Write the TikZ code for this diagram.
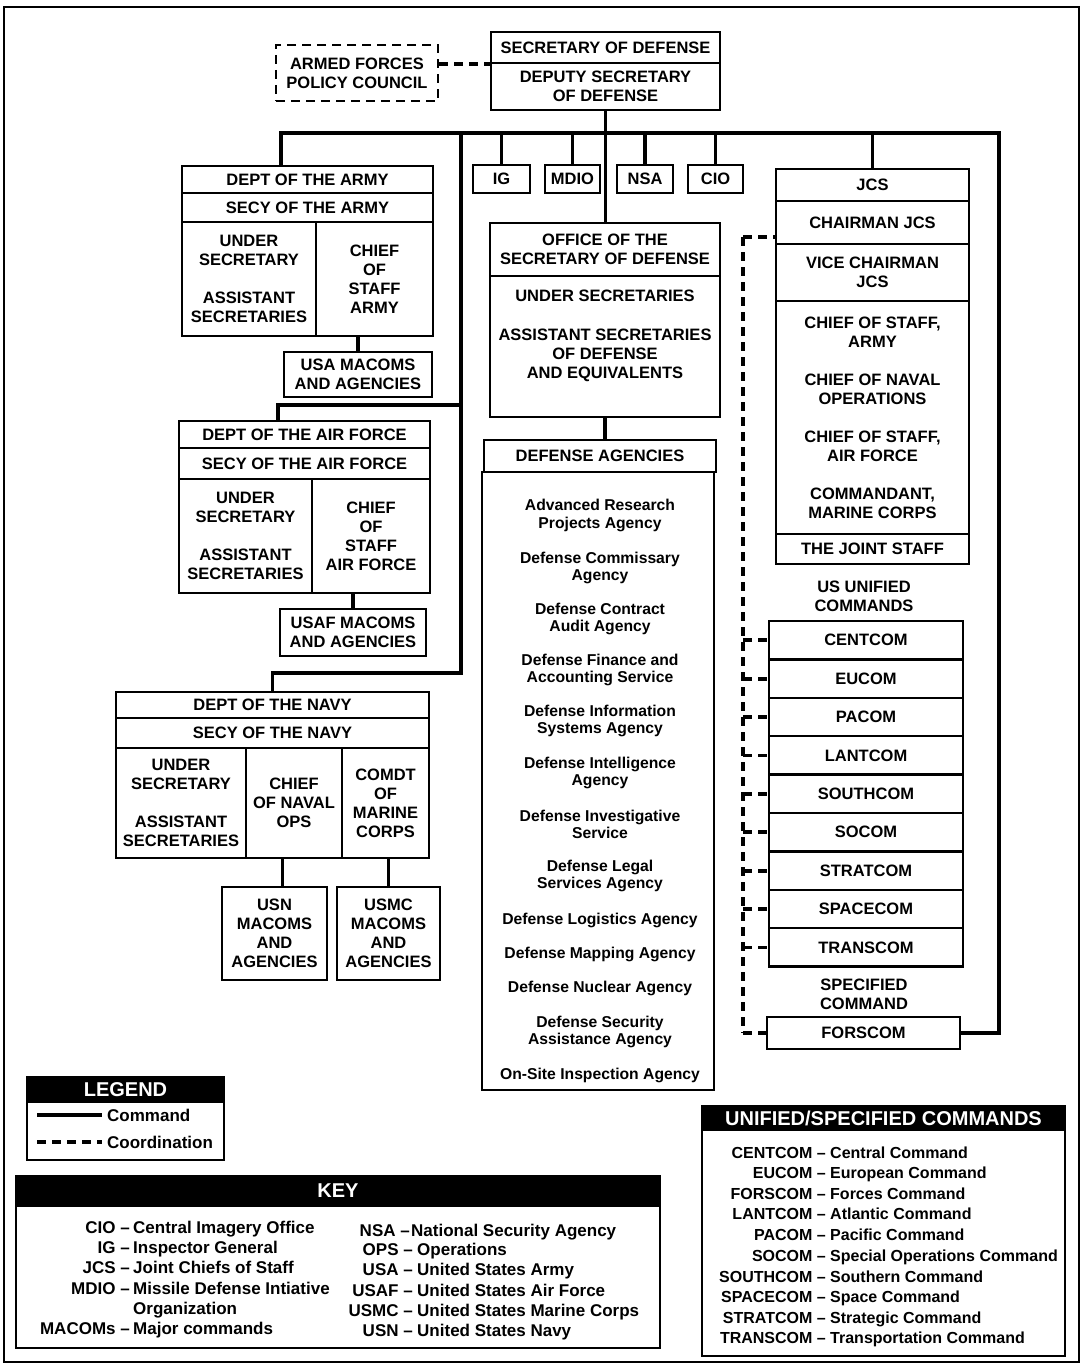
\documentclass[tikz,border=0pt]{standalone}
\usepackage{fontspec}
\setmainfont{Liberation Sans}
\begin{document}
\begin{tikzpicture}[x=1pt,y=-1pt,
  cr/.style n args={4}{at={({((#1)+(#3))/2},{((#2)+(#4))/2})}, minimum width={(#3)-(#1)}, minimum height={(#4)-(#2)}},
  bx/.style={draw, line width=2.4pt, inner sep=0pt, align=center, font=\fontsize{16.5}{19}\selectfont\bfseries},
  cbx/.style={bx, dash pattern=on 9pt off 6pt, line width=2.8pt},
  hd/.style={draw, fill=black, line width=2.4pt, inner sep=0pt, text=white, font=\fontsize{20}{22}\selectfont\bfseries},
  lbl/.style={inner sep=0pt, align=center, font=\fontsize{16.5}{19}\selectfont\bfseries},
  ag/.style={inner sep=0pt, align=center, font=\fontsize{15.7}{17.5}\selectfont\bfseries},
  kt/.style={inner sep=0pt, font=\fontsize{17}{20}\selectfont\bfseries},
  ut/.style={inner sep=0pt, font=\fontsize{16}{20}\selectfont\bfseries},
  cmd/.style={line width=3.6pt},
  crd/.style={line width=3.8pt, dash pattern=on 9pt off 6pt},
]
\fill[white] (0,0) rectangle (1084,1367);
\useasboundingbox (0,0) rectangle (1084,1367);
\draw[line width=2.4pt] (4,7) rectangle (1079,1362);

% ---- top
\node[cbx, cr={276}{45}{438}{101}] (afpc) {ARMED FORCES\\POLICY COUNCIL};
\node[bx, cr={491}{32}{720}{63}] (sd1) {SECRETARY OF DEFENSE};
\node[bx, cr={491}{63}{720}{110}] (sd2) {DEPUTY SECRETARY\\OF DEFENSE};
\draw[crd] ([yshift=9pt]afpc.east) -- ([yshift=9pt]afpc.east -| sd2.west);

% ---- small offices
\node[bx, cr={473}{165}{530}{193}] (ig) {IG};
\node[bx, cr={545}{165}{600}{193}] (mdio) {MDIO};
\node[bx, cr={617}{165}{673}{193}] (nsa) {NSA};
\node[bx, cr={688}{165}{743}{193}] (cio) {CIO};

% ---- Army
\node[bx, cr={182}{166}{433}{193}] (army1) {DEPT OF THE ARMY};
\node[bx, cr={182}{193}{433}{222}] (army2) {SECY OF THE ARMY};
\node[bx, cr={182}{222}{316}{336}] (army3) {UNDER\\SECRETARY\\[19pt]ASSISTANT\\SECRETARIES};
\node[bx, cr={316}{222}{433}{336}] (army4) {CHIEF\\OF\\STAFF\\ARMY};
\node[bx, cr={284}{352}{432}{397}] (usamac) {USA MACOMS\\AND AGENCIES};

% ---- Air Force
\node[bx, cr={179}{421}{430}{448}] (af1) {DEPT OF THE AIR FORCE};
\node[bx, cr={179}{448}{430}{479}] (af2) {SECY OF THE AIR FORCE};
\node[bx, cr={179}{479}{312}{593}] (af3) {UNDER\\SECRETARY\\[19pt]ASSISTANT\\SECRETARIES};
\node[bx, cr={312}{479}{430}{593}] (af4) {CHIEF\\OF\\STAFF\\AIR FORCE};
\node[bx, cr={280}{609}{426}{656}] (usafmac) {USAF MACOMS\\AND AGENCIES};

% ---- Navy
\node[bx, cr={116}{692}{429}{718}] (navy1) {DEPT OF THE NAVY};
\node[bx, cr={116}{718}{429}{748}] (navy2) {SECY OF THE NAVY};
\node[bx, cr={116}{748}{246}{858}] (navy3) {UNDER\\SECRETARY\\[19pt]ASSISTANT\\SECRETARIES};
\node[bx, cr={246}{748}{342}{858}] (navy4) {CHIEF\\OF NAVAL\\OPS};
\node[bx, cr={342}{748}{429}{858}] (navy5) {COMDT\\OF\\MARINE\\CORPS};
\node[bx, cr={222}{887}{327}{980}] (usnmac) {USN\\MACOMS\\AND\\AGENCIES};
\node[bx, cr={337}{887}{440}{980}] (usmcmac) {USMC\\MACOMS\\AND\\AGENCIES};

% ---- OSD and agencies
\node[bx, cr={490}{223}{720}{276}] (osd1) {OFFICE OF THE\\SECRETARY OF DEFENSE};
\node[bx, cr={490}{276}{720}{417}] (osd2) {};
\node[lbl] (osdt) at (605,336) {UNDER SECRETARIES\\[20pt]ASSISTANT SECRETARIES\\OF DEFENSE\\AND EQUIVALENTS};
\node[bx, cr={484}{440}{716}{472}] (dag1) {DEFENSE AGENCIES};
\node[bx, cr={482}{472}{714}{1090}] (dag2) {};
\foreach \t/\yy [count=\i] in {
  {Advanced Research\\Projects Agency}/515.5,
  {Defense Commissary\\Agency}/568,
  {Defense Contract\\Audit Agency}/619,
  {Defense Finance and\\Accounting Service}/670,
  {Defense Information\\Systems Agency}/721,
  {Defense Intelligence\\Agency}/773,
  {Defense Investigative\\Service}/824.5,
  {Defense Legal\\Services Agency}/876,
  {Defense Logistics Agency}/920,
  {Defense Mapping Agency}/954,
  {Defense Nuclear Agency}/988,
  {Defense Security\\Assistance Agency}/1032,
  {On-Site Inspection Agency}/1075}
  \node[ag] (agy\i) at (600,\yy) {\t};

% ---- JCS
\node[bx, cr={776}{169}{969}{201}] (jcs1) {JCS};
\node[bx, cr={776}{201}{969}{244}] (jcs2) {CHAIRMAN JCS};
\node[bx, cr={776}{244}{969}{301}] (jcs3) {VICE CHAIRMAN\\JCS};
\node[bx, cr={776}{301}{969}{534}] (jcs4) {CHIEF OF STAFF,\\ARMY\\[19pt]CHIEF OF NAVAL\\OPERATIONS\\[19pt]CHIEF OF STAFF,\\AIR FORCE\\[19pt]COMMANDANT,\\MARINE CORPS};
\node[bx, cr={776}{534}{969}{564}] (jcs5) {THE JOINT STAFF};

% ---- Unified commands
\node[lbl] (usu) at (864,596) {US UNIFIED\\COMMANDS};
\foreach \nm [count=\i from 0] in {CENTCOM,EUCOM,PACOM,LANTCOM,SOUTHCOM,SOCOM,STRATCOM,SPACECOM,TRANSCOM}
  \node[bx, cr={769}{621+38.4*\i}{963}{621+38.4*(\i+1)}] (u\i) {\nm};
\node[lbl] (spc) at (864,994) {SPECIFIED\\COMMAND};
\node[bx, cr={767}{1017}{960}{1049}] (fors) {FORSCOM};

% ---- command connectors
\coordinate (bl) at (281,133);
\coordinate (br) at (999,133);
\coordinate (tk) at (461,133);
\coordinate (tka) at (461,405);
\coordinate (tkn) at (461,673);
\coordinate (afx) at (278,405);
\coordinate (nvc) at ([xshift=8pt]usnmac.north);
\draw[cmd] (bl |- army1.north) -- (bl) -- (br) -- (br |- fors.east) -- (fors.east);
\draw[cmd] (sd2.south) -- (sd2.south |- osd1.north);
\draw[cmd] (ig.north) -- (ig.north |- bl);
\draw[cmd] (mdio.north) -- (mdio.north |- bl);
\draw[cmd] (nsa.north) -- (nsa.north |- bl);
\draw[cmd] (cio.north) -- (cio.north |- bl);
\draw[cmd] (jcs1.north) -- (jcs1.north |- br);
\draw[cmd] (tk) -- (tkn) -- (tkn -| navy1.north) -- (navy1.north);
\draw[cmd] (tka) -- (afx) -- (afx |- af1.north);
\draw[cmd] (usamac.north) -- (usamac.north |- army4.south);
\draw[cmd] (usafmac.north) -- (usafmac.north |- af4.south);
\draw[cmd] (nvc) -- (nvc |- navy4.south);
\draw[cmd] (usmcmac.north) -- (usmcmac.north |- navy5.south);
\draw[cmd] (osd2.south) -- (osd2.south |- dag1.north);

% ---- coordination connectors
\coordinate (cbt) at (743,237);
\coordinate (cbb) at (743,1033);
\draw[crd] (cbt) -- (cbb);
\draw[crd] (cbt) -- (cbt -| jcs2.west);
\foreach \i in {0,...,8} \draw[crd] (u\i.west -| cbt) -- (u\i.west);
\draw[crd] (cbb) -- (fors.west);

% ---- legend
\node[hd, cr={27}{1077}{224}{1102}] (lg1) {LEGEND};
\node[bx, cr={27}{1102}{224}{1160}] (lg2) {};
\coordinate (lc1) at (37,1115);
\coordinate (lc2) at (102,1115);
\coordinate (ld1) at (37,1142);
\coordinate (ld2) at (102,1142);
\draw[cmd] (lc1) -- (lc2);
\draw[crd] (ld1) -- (ld2);
\node[kt, anchor=base west] (lgc) at (107,1121) {Command};
\node[kt, anchor=base west] (lgd) at (107,1148) {Coordination};

% ---- key
\node[hd, cr={16}{1176}{660}{1206}] (k1) {KEY};
\node[bx, cr={16}{1206}{660}{1348}] (k2) {};
\foreach \ab/\df/\yy [count=\i] in {CIO/Central Imagery Office/1233, IG/Inspector General/1253, JCS/Joint Chiefs of Staff/1273, MDIO/Missile Defense Intiative/1294, MACOMs/Major commands/1334}{
  \node[kt, anchor=base east] (kab\i) at (130,\yy) {\ab\ --};
  \node[kt, anchor=base west] (kdf\i) at (133,\yy) {\df};
}
\node[kt, anchor=base west] (kdf6) at (133,1314) {Organization};
\node[kt, anchor=base east] (kr1) at (410,1236) {NSA --};
\node[kt, anchor=base west] (kq1) at (411,1236) {National Security Agency};
\foreach \ab/\df/\yy [count=\i from 2] in {OPS/Operations/1255, USA/United States Army/1275, USAF/United States Air Force/1296, USMC/United States Marine Corps/1316, USN/United States Navy/1336}{
  \node[kt, anchor=base east] (kr\i) at (413,\yy) {\ab\ --};
  \node[kt, anchor=base west] (kq\i) at (417,\yy) {\df};
}

% ---- unified/specified commands list
\node[hd, cr={702}{1106}{1065}{1130}] (uc1) {UNIFIED/SPECIFIED COMMANDS};
\node[bx, cr={702}{1130}{1065}{1356}] (uc2) {};
\foreach \ab/\df/\yy [count=\i] in {CENTCOM/Central Command/1158, EUCOM/European Command/1178, FORSCOM/Forces Command/1199, LANTCOM/Atlantic Command/1219, PACOM/Pacific Command/1240, SOCOM/Special Operations Command/1261, SOUTHCOM/Southern Command/1282, SPACECOM/Space Command/1302, STRATCOM/Strategic Command/1323, TRANSCOM/Transportation Command/1343}{
  \node[ut, anchor=base east] (ua\i) at (826,\yy) {\ab\ --};
  \node[ut, anchor=base west] (ud\i) at (830,\yy) {\df};
}
\end{tikzpicture}
\end{document}
